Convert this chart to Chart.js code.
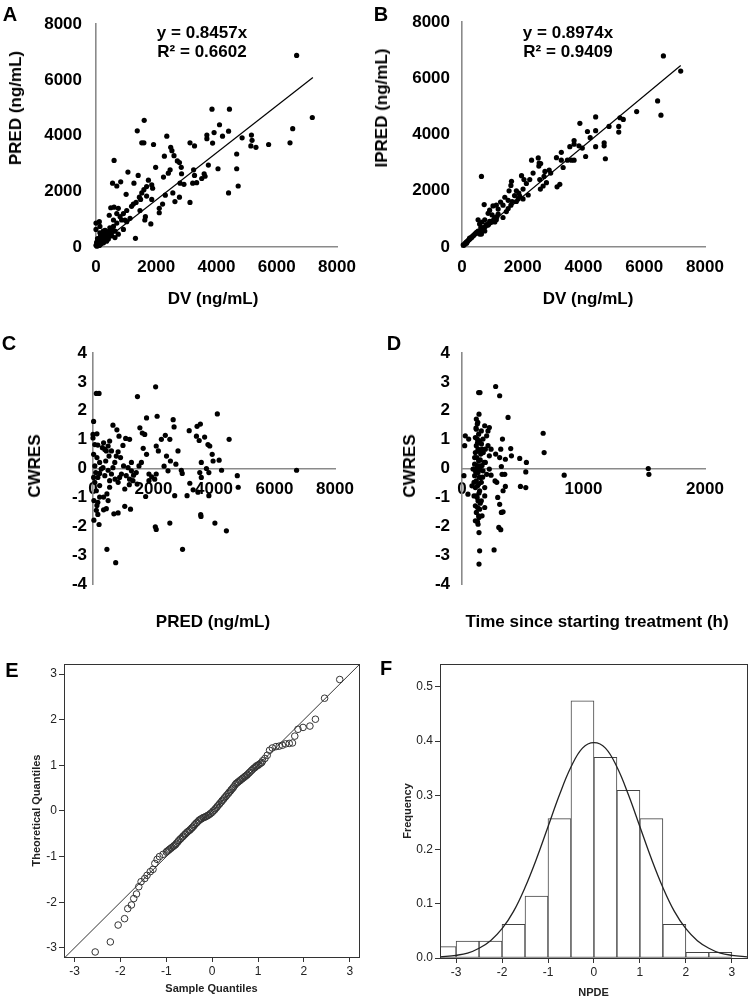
<!DOCTYPE html>
<html>
<head>
<meta charset="utf-8">
<script src="https://cdn.jsdelivr.net/npm/chart.js@4.4.1/dist/chart.umd.min.js"></script>
<style>
  body { margin: 0; background: #fff; font-family: "Liberation Sans", Arial, sans-serif; }
  #wrap { position: relative; width: 750px; height: 1001px; overflow: hidden; background: #fff; }
  canvas { position: absolute; }
  .lbl { position: absolute; font-weight: bold; color: #000; white-space: nowrap; transform: translate(-50%, -50%); z-index: 2; }
  .rot { transform: translate(-50%, -50%) rotate(-90deg); }
  .letter { font-size: 20px; }
  .ttl { font-size: 17px; }
</style>
</head>
<body>
<div id="wrap">
  <canvas id="cA" width="375" height="320" style="left:0;top:0"></canvas>
  <canvas id="cB" width="380" height="320" style="left:370px;top:0"></canvas>
  <canvas id="cC" width="375" height="320" style="left:0;top:320px"></canvas>
  <canvas id="cD" width="375" height="320" style="left:375px;top:320px"></canvas>
  <canvas id="cE" width="375" height="361" style="left:0;top:640px"></canvas>
  <canvas id="cF" width="375" height="361" style="left:375px;top:640px"></canvas>

  <div class="lbl letter" style="left:10px;top:14px">A</div>
  <div class="lbl letter" style="left:381px;top:14px">B</div>
  <div class="lbl letter" style="left:9px;top:343px">C</div>
  <div class="lbl letter" style="left:394px;top:343px">D</div>
  <div class="lbl letter" style="left:12px;top:670px">E</div>
  <div class="lbl letter" style="left:386px;top:668px">F</div>

  <div class="lbl ttl" style="left:202px;top:33px">y = 0.8457x</div>
  <div class="lbl ttl" style="left:202px;top:52px">R² = 0.6602</div>
  <div class="lbl ttl" style="left:568px;top:33px">y = 0.8974x</div>
  <div class="lbl ttl" style="left:568px;top:52px">R² = 0.9409</div>

  <div class="lbl ttl" style="left:213px;top:299px">DV (ng/mL)</div>
  <div class="lbl ttl rot" style="left:16px;top:108px">PRED (ng/mL)</div>
  <div class="lbl ttl" style="left:588px;top:299px">DV (ng/mL)</div>
  <div class="lbl ttl rot" style="left:382px;top:108px">IPRED (ng/mL)</div>
  <div class="lbl ttl" style="left:213px;top:622px">PRED (ng/mL)</div>
  <div class="lbl ttl rot" style="left:35px;top:466px">CWRES</div>
  <div class="lbl ttl" style="left:597px;top:622px">Time since starting treatment (h)</div>
  <div class="lbl ttl rot" style="left:410px;top:466px">CWRES</div>
</div>

<script>
// ---- data ----
// A: DV vs PRED  [DV, PRED]
const dvPred = [[6660,6880],[7180,4650],[6530,4250],[6440,3740],[5730,3680],[5310,3580],[5160,4020],[5180,3830],[5140,3630],[4850,3920],
  [4430,4950],[3850,4950],[4100,4390],[3920,4110],[4200,3980],[4400,4160],[3680,4020],[3680,3890],[3870,3730],[4670,3340],
  [4670,2810],[4720,2190],[4400,1940],[4050,2810],[3730,2940],[3590,2630],[3510,2460],[3620,2540],[3240,2770],[3270,2570],
  [3210,2290],[3340,2310],[3120,3740],[3270,3630],[3120,1600],[2830,2860],[2840,2630],[2790,2290],[2920,2250],[2700,3090],
  [2770,3030],[2480,3580],[2520,3460],[2590,3280],[2350,3980],[2270,3260],[2460,2770],[2240,2510],[2400,2650],[2550,1940],
  [2620,1630],[2770,1790],[2300,1860],[2210,1540],[2100,1390],[2100,1230],[1980,2860],[1910,3680],[1590,3740],[1520,3740],
  [1600,4550],[1370,4170],[1060,2690],[1000,1890],[600,3110],[550,2290],[690,2190],[820,2340],[1260,2290],[1400,2570],
  [1640,1090],[1620,970],[1820,830],[1310,310],[1240,1540],[1180,1460],[1330,1600],[1440,1790],[1520,1940],[1590,2060],
  [1680,2170],[1850,2230],[1880,2110],[1740,2400],[1480,1710],[1680,1830],[1850,1710],[1460,1310],[1020,1310],[910,1200],
  [850,970],[690,860],[580,740],[460,690],[490,1410],[600,1430],[690,1200],[800,1090],[960,970],[1020,910],
  [1130,1030],[630,570],[740,460],[910,630],[350,460],[240,570],[190,460],[130,340],[80,230],[40,110],
  [0,60],[20,170],[0,860],[110,910],[0,630],[300,340],[410,290],[520,400],[130,510],[240,290],
  [350,210],[460,570],[190,170],[100,60],[330,570],[580,970],[740,1390],[440,1140],[130,740],[630,340],
  [60,150],[150,250],[200,350],[250,150],[280,420],[120,60],[50,300],[380,480],[420,380],[90,200],
  [170,120],[230,280],[300,600],[260,500],[350,300],[480,500],[520,620],[440,450],[150,430],[30,30]];
const slopeA = 0.8457;

// B: DV vs IPRED  [DV, IPRED]
const dvIpred = [[6630,6800],[7200,6260],[6440,5200],[6550,4690],[5750,4820],[5310,4540],[5200,4600],[5160,4290],[5160,4090],[4840,4290],
  [4400,4630],[4400,4140],[4400,3570],[4680,3710],[4680,3600],[4720,3140],[4070,3220],[3880,4400],[4130,4110],[4220,3890],
  [3690,3790],[3690,3660],[3550,3570],[3960,3520],[3850,3600],[3600,3090],[3690,3090],[3470,3090],[3270,3370],[3270,3090],
  [3330,2830],[3110,3180],[3220,2230],[3130,2140],[2870,2740],[2920,2630],[2730,2690],[2700,2510],[2780,2290],[2670,2170],
  [2510,3170],[2540,2990],[2530,2880],[2590,2970],[2290,3090],[2340,2630],[2230,2400],[2560,2400],[2580,2060],[2120,2260],
  [1960,2540],[2040,2400],[1630,2340],[1610,2190],[1550,2000],[1790,2000],[1870,1920],[2010,2060],[1730,1830],[1900,1810],
  [1410,1770],[1520,1660],[1650,1620],[1790,1620],[1270,1600],[1350,1490],[1520,1370],[1610,1490],[1130,1490],[1190,1350],
  [1020,1460],[910,1310],[860,1200],[730,1510],[990,1140],[1080,1050],[1350,1050],[1190,1170],[640,2510],[530,970],
  [660,890],[750,970],[580,820],[690,690],[800,800],[910,910],[750,570],[530,570],[420,460],[310,340],
  [200,230],[110,140],[40,80],[620,690],[470,510],[580,460],[860,780],[970,890],[1080,890],[360,400],
  [250,320],[140,170],[640,460],[1130,970],[1460,1260],[1850,1710],[2010,1710],[2180,1850],
  [60,60],[90,100],[150,130],[180,200],[230,260],[270,290],[330,360],[380,410],[440,470],[500,530],
  [560,540],[620,600],[700,650],[760,720],[820,780],[880,820],[940,870],[1000,930],[1060,980],[1150,1080]];
const slopeB = 0.8974;
const fitRangeX = [0, 7200];
const concTicks = [0, 2000, 4000, 6000, 8000];

// C: PRED vs CWRES  [PRED, CWRES]
const predCwres = [[110,2.6],[200,2.6],[2070,2.83],[1470,2.49],[20,1.63],[0,1.18],[0,1.06],[130,1.2],[60,0.83],[160,0.81],
  [20,0.49],[130,0.38],[90,-0.14],[20,-0.31],[60,-0.48],[110,-0.77],[30,-1.11],[130,-1.28],[110,-1.45],[160,-1.59],
  [30,-1.79],[200,-1.94],[460,-2.8],[750,-3.26],[660,1.5],[790,1.34],[350,0.89],[310,0.72],[440,0.61],[530,0.43],
  [420,0.26],[330,0.03],[500,-0.06],[610,-0.19],[730,-0.37],[830,-0.48],[550,-0.65],[460,-0.88],[500,-1.11],[440,-1.39],
  [350,-1.43],[690,-1.57],[830,-1.54],[1050,-1.31],[1240,-1.41],[1080,1.04],[1210,1.01],[990,0.8],[830,0.58],[910,0.38],
  [1010,0.09],[1160,0.03],[1270,-0.08],[1340,-0.23],[1430,-0.14],[1320,-0.42],[1460,-0.54],[1200,-0.56],[1050,-0.71],[1550,1.41],
  [1630,1.23],[1710,1.18],[1770,1.75],[1660,0.7],[1770,0.49],[1600,0.21],[1520,0.09],[1850,-0.19],[1940,-0.29],[2040,-0.37],
  [2090,-0.19],[1740,-0.97],[1850,-0.42],[2120,1.81],[2090,0.78],[2160,0.61],[2260,1.01],[2390,1.15],[2350,0.08],[2430,0.43],
  [2540,1.01],[2560,0.26],[2480,-0.08],[2650,1.69],[2680,1.44],[2740,0.15],[2810,0.61],[2920,-0.06],[2950,-0.17],[2700,-0.94],
  [2060,-2.02],[2090,-2.11],[2540,-1.89],[2960,-2.8],[3110,-0.94],[3180,1.31],[3200,-0.51],[3310,-0.74],[3440,1.46],[3420,1.12],
  [3510,0.97],[3550,1.54],[3580,0.21],[3530,-0.14],[3580,-0.31],[3470,-0.82],[3560,-1.6],[3570,-1.66],[3690,1.09],[3750,0.0],
  [3800,0.83],[3860,0.78],[3830,-0.14],[3830,-0.94],[3940,0.49],[3970,0.26],[4030,-1.89],[4110,1.89],[4170,0.29],[4250,-0.06],
  [4500,1.01],[4410,-2.16],[4770,-0.25],[4800,-0.65],[6730,-0.06],[220,0.21],[270,-0.02],[220,-0.17],[390,-0.25],[550,-0.42],
  [660,0.03],[720,0.21],[770,0.43],[610,0.61],[220,-0.59],[350,-0.99],[220,-0.99],[160,-1.17],[880,-0.31],[940,-0.19],
  [1100,-0.25],[1210,-0.37],[1270,0.21],[860,1.12],[390,0.66],[550,0.95],[500,0.78],[60,0.09],[160,-0.31]];
const predTicks = [0, 2000, 4000, 6000, 8000];
const cwresTicks = [-4, -3, -2, -1, 0, 1, 2, 3, 4];

// D: time since start vs CWRES  [h, CWRES]
const timeCwres = [[27,1.13],[22,0.79],[55,1.02],[49,-0.89],[16,-0.25],[137,2.63],[148,2.63],[140,1.88],[118,1.71],[126,1.54],
  [118,1.36],[137,1.19],[110,1.07],[145,0.96],[118,0.79],[132,0.67],[110,0.55],[154,0.5],[121,0.38],[137,0.27],
  [104,0.15],[145,0.09],[118,-0.02],[132,-0.14],[104,-0.25],[154,-0.31],[118,-0.43],[137,-0.54],[110,-0.66],[145,-0.77],
  [118,-0.95],[132,-1.12],[110,-1.29],[145,-1.41],[118,-1.52],[137,-1.64],[110,-1.81],[132,-1.93],[140,-2.22],[145,-2.85],
  [140,-3.31],[165,-1.64],[159,-1.12],[99,-0.95],[159,-0.48],[173,-0.08],[181,0.21],[165,0.67],[173,1.02],[159,1.3],
  [104,0.38],[126,1.02],[99,-0.48],[187,1.48],[214,1.3],[225,1.42],[203,1.13],[192,0.67],[214,0.79],[239,0.67],
  [225,0.44],[192,0.21],[225,-0.02],[203,-0.2],[239,-0.23],[187,-0.66],[187,-0.95],[187,-1.35],[277,2.84],[310,2.52],
  [277,0.5],[272,-0.43],[286,-0.48],[294,-1.0],[264,-2.82],[319,0.67],[310,0.38],[333,1.02],[324,0.07],[330,-0.2],
  [352,-0.2],[338,-0.77],[310,-1.24],[324,-1.52],[338,-1.5],[303,-2.04],[319,-2.12],[379,1.77],[401,0.69],[407,0.44],
  [357,0.32],[357,-0.62],[475,0.35],[481,-0.62],[530,0.21],[525,-0.12],[525,-0.66],[668,1.22],[676,0.55],[841,-0.23],
  [1533,0.0],[1538,-0.2],[82,-0.6],[91,-0.02],[128,0.9],[140,0.6],[125,0.1],[142,-0.3],[128,-0.6],[140,-0.85],
  [125,-1.0],[150,-1.2],[128,-1.35],[140,-1.7],[128,-1.85],[115,1.4],[130,1.6],[150,0.3],[112,-0.1],[150,-0.05],
  [165,0.1],[170,-0.3],[160,0.85],[175,0.55]];
const timeTicks = [0, 1000, 2000];

// E: QQ plot of NPDE  [sample quantile, theoretical quantile]
const qqPoints = [[2.78,2.88],[2.45,2.47],[2.25,2.01],[2.13,1.86],[1.98,1.83],[1.87,1.79],[1.80,1.64],[1.75,1.49],[1.68,1.48],[1.60,1.47],
  [1.53,1.44],[1.46,1.42],[1.39,1.41],[1.31,1.38],[1.25,1.33],[1.20,1.22],[1.15,1.15],[1.10,1.10],[1.08,1.06],[1.05,1.04],
  [1.02,1.02],[1.0,1.0],[0.97,0.99],[0.95,0.97],[0.93,0.95],[0.9,0.93],[0.87,0.9],[0.85,0.88],[0.82,0.85],[0.8,0.83],
  [0.77,0.8],[0.75,0.78],[0.72,0.76],[0.7,0.74],[0.67,0.72],[0.65,0.7],[0.62,0.68],[0.6,0.66],[0.57,0.64],[0.55,0.62],
  [0.52,0.6],[0.5,0.57],[0.47,0.53],[0.45,0.5],[0.42,0.47],[0.4,0.44],[0.37,0.41],[0.35,0.38],[0.32,0.35],[0.3,0.32],
  [0.27,0.29],[0.25,0.26],[0.22,0.23],[0.2,0.2],[0.17,0.17],[0.15,0.14],[0.12,0.11],[0.1,0.08],[0.07,0.05],[0.05,0.02],
  [0.02,0.0],[0.0,-0.03],[-0.03,-0.05],[-0.05,-0.07],[-0.08,-0.09],[-0.1,-0.1],[-0.13,-0.12],[-0.15,-0.13],[-0.18,-0.14],[-0.2,-0.15],
  [-0.23,-0.17],[-0.25,-0.18],[-0.28,-0.2],[-0.3,-0.22],[-0.33,-0.25],[-0.35,-0.27],[-0.38,-0.3],[-0.4,-0.33],[-0.43,-0.36],[-0.45,-0.38],
  [-0.48,-0.41],[-0.5,-0.43],[-0.53,-0.45],[-0.55,-0.47],[-0.58,-0.5],[-0.6,-0.52],[-0.63,-0.55],[-0.65,-0.57],[-0.68,-0.6],[-0.7,-0.62],
  [-0.73,-0.65],[-0.75,-0.68],[-0.78,-0.71],[-0.8,-0.74],[-0.83,-0.76],[-0.85,-0.78],[-0.88,-0.8],[-0.9,-0.82],[-0.93,-0.84],[-0.95,-0.86],
  [-0.98,-0.88],[-1.0,-0.9],[-1.07,-0.95],[-1.15,-1.0],[-1.2,-1.06],[-1.25,-1.15],[-1.29,-1.28],[-1.35,-1.33],[-1.42,-1.41],[-1.47,-1.48],
  [-1.55,-1.55],[-1.6,-1.66],[-1.65,-1.82],[-1.71,-1.92],[-1.76,-2.06],[-1.84,-2.14],[-1.91,-2.36],[-2.05,-2.5],[-2.22,-2.87],[-2.55,-3.09]];
const qqLine = [-3.4, 3.4];
const qqTicks = [-3, -2, -1, 0, 1, 2, 3];

// F: histogram of NPDE (bins of 0.5) and normal density
const binCenters = [-3.25, -2.75, -2.25, -1.75, -1.25, -0.75, -0.25, 0.25, 0.75, 1.25, 1.75, 2.25, 2.75];
const binFreq = [0.021, 0.031, 0.031, 0.062, 0.114, 0.257, 0.474, 0.370, 0.309, 0.257, 0.062, 0.0105, 0.0105];
const curveX = [-3.35, -3, -2.75, -2.5, -2.25, -2, -1.75, -1.5, -1.25, -1, -0.75, -0.5, -0.25, 0, 0.25, 0.5, 0.75, 1, 1.25, 1.5, 1.75, 2, 2.25, 2.5, 2.75, 3, 3.35];
const curveY = [0.002, 0.005, 0.009, 0.018, 0.032, 0.054, 0.086, 0.13, 0.183, 0.242, 0.301, 0.352, 0.387, 0.397, 0.387, 0.352, 0.301, 0.242, 0.183, 0.13, 0.086, 0.054, 0.032, 0.018, 0.009, 0.005, 0.002];
const freqTicks = [0, 0.1, 0.2, 0.3, 0.4, 0.5];

// ---- helpers ----
Chart.defaults.font.family = '"Liberation Sans", Arial, sans-serif';
Chart.defaults.color = '#000';
Chart.defaults.animation = false;

const axisGray = '#8a8a8a';
const pairs = arr => arr.map(p => ({ x: p[0], y: p[1] }));
const fitLine = slope => fitRangeX.map(x => ({ x: x, y: x * slope }));
const setTicks = list => scale => { scale.ticks = list.map(v => ({ value: v })); };
const fixWidth = w => scale => { scale.width = w; };
const fixHeight = h => scale => { scale.height = h; };
const noPlugins = { legend: { display: false }, tooltip: { enabled: false } };

// box around the plotting area for E and F
const frame = {
  id: 'frame',
  afterDatasetsDraw(chart) {
    const a = chart.chartArea, ctx = chart.ctx;
    ctx.save();
    ctx.strokeStyle = '#333';
    ctx.lineWidth = 1;
    ctx.strokeRect(Math.round(a.left) + 0.5, Math.round(a.top) + 0.5, Math.round(a.right - a.left), Math.round(a.bottom - a.top));
    ctx.restore();
  }
};

function boldTicks(pad) {
  return { padding: pad, font: { size: 17, weight: 'bold' }, color: '#000', autoSkip: false, maxRotation: 0, callback: v => String(v) };
}
function plainAxis() {
  return { display: false, drawTicks: false };
}

// A and B: observed vs predicted with regression line through origin
function obsPredChart(id, pts, slope, yWidth, yPad, padRight) {
  return new Chart(document.getElementById(id), {
    type: 'scatter',
    data: {
      datasets: [
        { data: pairs(pts), pointRadius: 2.6, pointBackgroundColor: '#000', pointBorderWidth: 0, clip: false },
        { type: 'line', data: fitLine(slope), borderColor: '#000', borderWidth: 1.2, pointRadius: 0 }
      ]
    },
    options: {
      responsive: false,
      plugins: noPlugins,
      layout: { padding: { left: 0, top: 13, right: padRight, bottom: 0 } },
      scales: {
        x: {
          type: 'linear', min: 0, max: 8000,
          afterBuildTicks: setTicks(concTicks), afterFit: fixHeight(73),
          grid: plainAxis(), border: { color: axisGray, width: 1.6 },
          ticks: boldTicks(10)
        },
        y: {
          type: 'linear', min: 0, max: 8000,
          afterBuildTicks: setTicks(concTicks), afterFit: fixWidth(yWidth),
          grid: plainAxis(), border: { color: axisGray, width: 1.6 },
          ticks: boldTicks(yPad)
        }
      }
    }
  });
}

obsPredChart('cA', dvPred, slopeA, 96, 14, 38);
obsPredChart('cB', dvIpred, slopeB, 92, 12, 45);

// C and D: CWRES with the x axis crossing at zero
function cwresChart(id, pts, xMax, xTicks, yWidth, yPad, padRight) {
  return new Chart(document.getElementById(id), {
    type: 'scatter',
    data: {
      datasets: [
        { data: pairs(pts), pointRadius: 2.6, pointBackgroundColor: '#000', pointBorderWidth: 0, clip: false }
      ]
    },
    options: {
      responsive: false,
      plugins: noPlugins,
      layout: { padding: { left: 0, top: 33, right: padRight, bottom: 56 } },
      scales: {
        x: {
          type: 'linear', min: 0, max: xMax, position: { y: 0 },
          afterBuildTicks: setTicks(xTicks),
          grid: plainAxis(), border: { color: axisGray, width: 1.6 },
          ticks: boldTicks(11)
        },
        y: {
          type: 'linear', min: -4, max: 4,
          afterBuildTicks: setTicks(cwresTicks), afterFit: fixWidth(yWidth),
          grid: plainAxis(), border: { color: axisGray, width: 1.6 },
          ticks: boldTicks(yPad)
        }
      }
    }
  });
}

cwresChart('cC', predCwres, 8000, predTicks, 93, 6, 40);
cwresChart('cD', timeCwres, 2000, timeTicks, 87, 12, 45);

// E and F: SPSS-like framed plots
function smallAxis(min, max, ticks, title, titlePad, fit, fmt) {
  return {
    type: 'linear', min: min, max: max, offset: false,
    afterBuildTicks: setTicks(ticks), afterFit: fit,
    grid: { display: true, drawOnChartArea: false, drawTicks: true, tickLength: 5, color: '#333', lineWidth: 1, offset: false },
    border: { color: '#333', width: 1 },
    ticks: { padding: 2, font: { size: 12 }, color: '#222', autoSkip: false, maxRotation: 0, callback: fmt || (v => v) },
    title: { display: true, text: title, font: { size: 11, weight: 'bold' }, color: '#222', padding: titlePad }
  };
}

new Chart(document.getElementById('cE'), {
  type: 'scatter',
  data: {
    datasets: [
      { type: 'line', data: qqLine.map(v => ({ x: v, y: v })), borderColor: '#333', borderWidth: 1, pointRadius: 0 },
      { data: pairs(qqPoints), pointRadius: 3.3, pointBorderWidth: 1, pointBorderColor: '#333', pointBackgroundColor: 'rgba(0,0,0,0)' }
    ]
  },
  options: {
    responsive: false,
    plugins: noPlugins,
    layout: { padding: { left: 0, top: 24, right: 16, bottom: 0 } },
    scales: {
      x: smallAxis(-3.23, 3.2, qqTicks, 'Sample Quantiles', { top: 0, bottom: 5 }, fixHeight(44)),
      y: smallAxis(-3.2, 3.22, qqTicks, 'Theoretical Quantiles', { top: 30, bottom: 0 }, fixWidth(64))
    }
  },
  plugins: [frame]
});

new Chart(document.getElementById('cF'), {
  type: 'bar',
  data: {
    datasets: [
      { type: 'line', data: curveX.map((x, i) => ({ x: x, y: curveY[i] })), borderColor: '#222', borderWidth: 1.3, pointRadius: 0, tension: 0.4 },
      { data: binCenters.map((x, i) => ({ x: x, y: binFreq[i] })), backgroundColor: '#fff', borderColor: '#444', borderWidth: 1,
        borderSkipped: false, barPercentage: 1, categoryPercentage: 1 }
    ]
  },
  options: {
    responsive: false,
    plugins: noPlugins,
    layout: { padding: { left: 0, top: 24, right: 3, bottom: 0 } },
    scales: {
      x: smallAxis(-3.35, 3.33, qqTicks, 'NPDE', { top: 0, bottom: 1 }, fixHeight(43)),
      y: smallAxis(0, 0.542, freqTicks, 'Frequency', { top: 26, bottom: 0 }, fixWidth(65), v => v.toFixed(1))
    }
  },
  plugins: [frame]
});
</script>
</body>
</html>
